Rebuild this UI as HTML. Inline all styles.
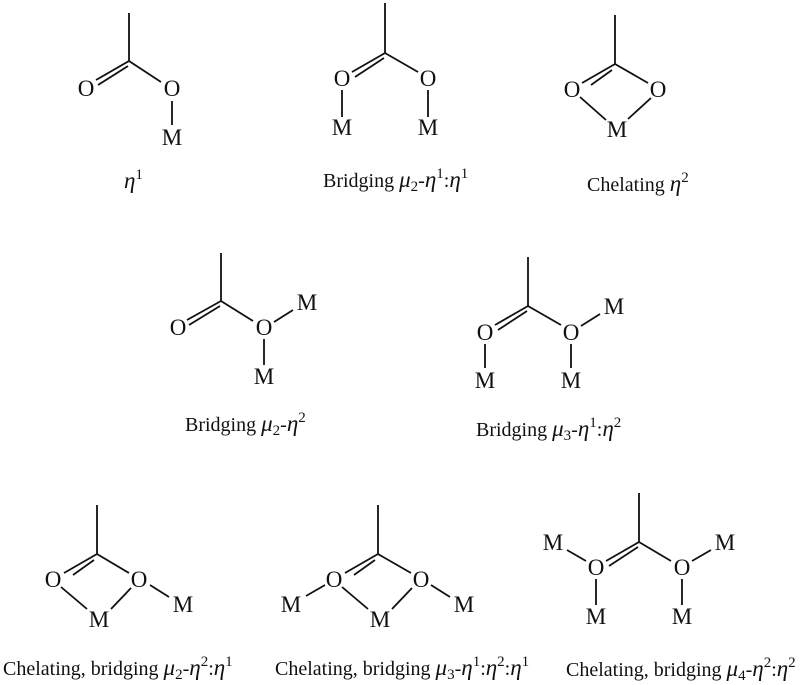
<!DOCTYPE html>
<html>
<head>
<meta charset="utf-8">
<style>
html,body{margin:0;padding:0;background:#fff;}
svg{display:block;}
text{font-family:"Liberation Serif",serif;fill:#111;}
.a{font-size:23px;text-anchor:middle;}
.c{font-size:20px;}
.i{font-style:italic;font-size:23px;}
.s{font-size:15px;}
path{stroke:#111;stroke-width:1.8;fill:none;}
</style>
</head>
<body>
<svg width="800" height="685" viewBox="0 0 800 685" xmlns="http://www.w3.org/2000/svg">
<rect width="800" height="685" fill="#fff"/>

<path d="M129 13V61L161 82M129 61L96 80M128 66L98 85M172 101V125"/>
<text class="a" x="86" y="96">O</text><text class="a" x="172" y="96">O</text><text class="a" x="172" y="145">M</text>
<text class="c" x="124" y="188"><tspan class="i">η</tspan><tspan class="s" dy="-9">1</tspan></text>

<path d="M385 3V53L418 72M385 53L352 72M384 58L355 77M342 90V117M428 90V117"/>
<text class="a" x="342" y="86">O</text><text class="a" x="428" y="86">O</text><text class="a" x="342" y="135">M</text><text class="a" x="428" y="135">M</text>
<text class="c" x="323" y="187">Bridging <tspan class="i">μ</tspan><tspan class="s" dy="4">2</tspan><tspan dy="-4">-</tspan><tspan class="i">η</tspan><tspan class="s" dy="-9">1</tspan><tspan dy="9">:</tspan><tspan class="i">η</tspan><tspan class="s" dy="-9">1</tspan></text>

<path d="M615 15V64L648 83M615 64L582 83M612 70L591 85M580 97L606 120M651 98L628 119"/>
<text class="a" x="572" y="97">O</text><text class="a" x="658" y="97">O</text><text class="a" x="617" y="137">M</text>
<text class="c" x="587" y="191">Chelating <tspan class="i">η</tspan><tspan class="s" dy="-9">2</tspan></text>

<path d="M221 253V301L253 321M221 301L187 320M220 306L189 325M274 322L293 310M264 339V365"/>
<text class="a" x="178" y="335">O</text><text class="a" x="264" y="335">O</text><text class="a" x="307" y="310">M</text><text class="a" x="264" y="384">M</text>
<text class="c" x="185" y="431">Bridging <tspan class="i">μ</tspan><tspan class="s" dy="4">2</tspan><tspan dy="-4">-</tspan><tspan class="i">η</tspan><tspan class="s" dy="-9">2</tspan></text>

<path d="M528 257V306L561 325M528 306L495 325M527 311L498 330M581 326L600 314M485 344V368M571 344V368"/>
<text class="a" x="485" y="340">O</text><text class="a" x="571" y="340">O</text><text class="a" x="614" y="314">M</text><text class="a" x="485" y="388">M</text><text class="a" x="571" y="388">M</text>
<text class="c" x="476" y="436">Bridging <tspan class="i">μ</tspan><tspan class="s" dy="4">3</tspan><tspan dy="-4">-</tspan><tspan class="i">η</tspan><tspan class="s" dy="-9">1</tspan><tspan dy="9">:</tspan><tspan class="i">η</tspan><tspan class="s" dy="-9">2</tspan></text>

<path d="M97 505V554L129 573M97 554L64 573M94 560L73 575M61 587L87 609M131 588L111 609M150 585L169 597"/>
<text class="a" x="53" y="587">O</text><text class="a" x="139" y="587">O</text><text class="a" x="99" y="627">M</text><text class="a" x="183" y="612">M</text>
<text class="c" x="3" y="675">Chelating, bridging <tspan class="i">μ</tspan><tspan class="s" dy="4">2</tspan><tspan dy="-4">-</tspan><tspan class="i">η</tspan><tspan class="s" dy="-9">2</tspan><tspan dy="9">:</tspan><tspan class="i">η</tspan><tspan class="s" dy="-9">1</tspan></text>

<path d="M378 505V554L411 573M378 554L345 573M375 560L354 575M306 596L325 585M342 587L368 609M412 588L392 609M431 585L450 597"/>
<text class="a" x="334" y="587">O</text><text class="a" x="421" y="587">O</text><text class="a" x="291" y="612">M</text><text class="a" x="380" y="627">M</text><text class="a" x="464" y="612">M</text>
<text class="c" x="275" y="675">Chelating, bridging <tspan class="i">μ</tspan><tspan class="s" dy="4">3</tspan><tspan dy="-4">-</tspan><tspan class="i">η</tspan><tspan class="s" dy="-9">1</tspan><tspan dy="9">:</tspan><tspan class="i">η</tspan><tspan class="s" dy="-9">2</tspan><tspan dy="9">:</tspan><tspan class="i">η</tspan><tspan class="s" dy="-9">1</tspan></text>

<path d="M639 493V542L671 561M639 542L606 561M638 547L609 566M567 550L586 561M692 561L711 550M596 579V605M682 579V605"/>
<text class="a" x="596" y="575">O</text><text class="a" x="682" y="575">O</text><text class="a" x="553" y="550">M</text><text class="a" x="725" y="550">M</text><text class="a" x="596" y="624">M</text><text class="a" x="682" y="624">M</text>
<text class="c" x="566" y="676">Chelating, bridging <tspan class="i">μ</tspan><tspan class="s" dy="4">4</tspan><tspan dy="-4">-</tspan><tspan class="i">η</tspan><tspan class="s" dy="-9">2</tspan><tspan dy="9">:</tspan><tspan class="i">η</tspan><tspan class="s" dy="-9">2</tspan></text>
</svg>
</body>
</html>
